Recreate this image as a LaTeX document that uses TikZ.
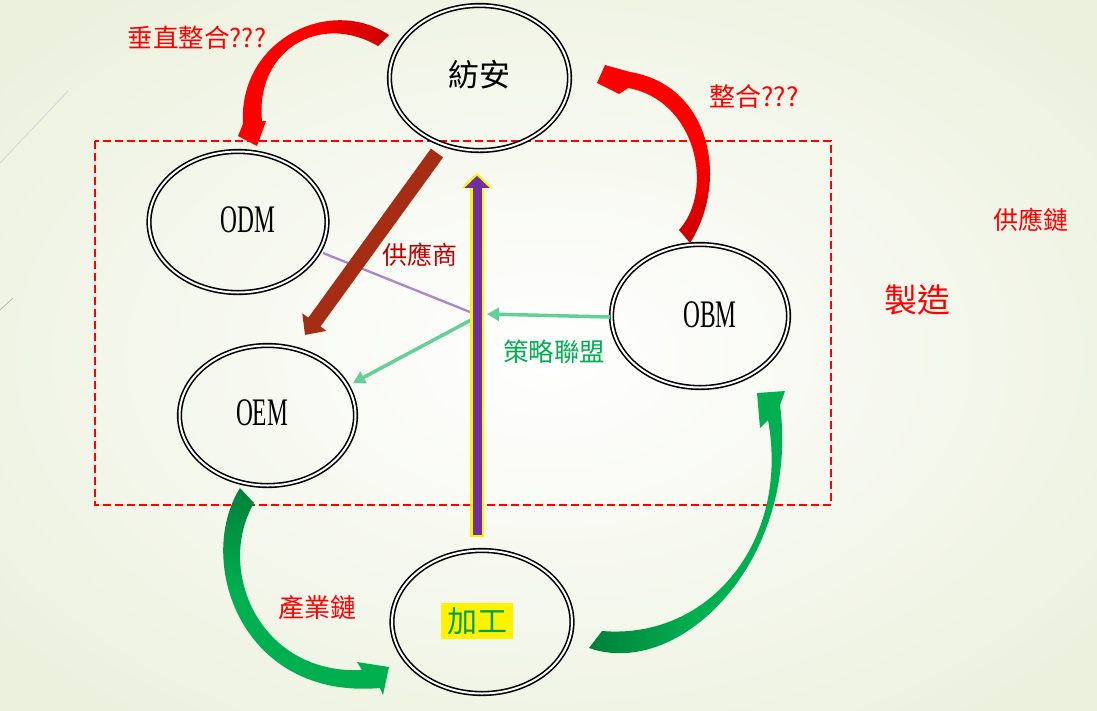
\documentclass[tikz,border=0pt]{standalone}
\usepackage{fontspec}
\setmainfont{Liberation Serif}
\newfontfamily\cjk{Noto Sans CJK TC}
\newfontfamily\narrowserif[FakeStretch=0.6]{Liberation Serif}
\usetikzlibrary{arrows.meta,shapes.geometric}
\definecolor{bgedge}{RGB}{236,241,222}
\definecolor{brownc}{RGB}{165,45,20}
\definecolor{purplec}{RGB}{112,48,160}
\definecolor{lavc}{RGB}{170,135,205}
\definecolor{lgreen}{RGB}{100,208,152}
\definecolor{mgreen}{RGB}{0,176,80}
\definecolor{dgreen}{RGB}{0,128,58}
\definecolor{dred}{RGB}{192,0,0}
\definecolor{rdark}{RGB}{200,0,0}
\definecolor{jgreen}{RGB}{0,160,80}
\begin{document}
\begin{tikzpicture}[x=1pt,y=-1pt,
  ring/.style={ellipse, draw=black, double=white, line width=1.6pt, double distance=2pt, inner sep=0pt},
  latin/.style={font=\narrowserif\fontsize{39pt}{39pt}\selectfont},
  cjklabel/.style={font=\cjk\fontsize{#1}{#1}\selectfont, inner sep=0pt},
  thinarrow/.style={lgreen, line width=3.5pt, -{Triangle[width=13pt,length=12pt]}}]
% background
\useasboundingbox (0,0) rectangle (1097,710);
\shade[inner color=white, outer color=bgedge] (-150,-100) rectangle (1247,810);
\draw[black!18, line width=0.7pt] (0,163) -- (68,91);
\draw[black!30, line width=0.7pt] (0,310) -- (13,298);
% dashed frame
\draw[red, line width=1.6pt, dash pattern=on 8pt off 4pt] (95,141) rectangle (831,505);
% ellipses
\node[ring, minimum width=180pt, minimum height=145pt] (fangan) at (479.5,78) {};
\node[ring, minimum width=178pt, minimum height=141pt] (odm) at (238,222) {};
\node[ring, minimum width=176pt, minimum height=140pt] (oem) at (267.5,415.5) {};
\node[ring, minimum width=177pt, minimum height=143pt] (obm) at (700,316) {};
\node[ring, minimum width=180pt, minimum height=143pt] (jiagong) at (482,622) {};
% connector end points
\coordinate (lavA) at (323,253);
\coordinate (lavB) at (470,312);
\coordinate (g1A) at (610,317);
\coordinate (g1B) at (487,314);
\coordinate (g2A) at (471,320);
\coordinate (g2B) at (353,383);
\coordinate (brA) at (437,153);
\coordinate (brB) at (305,335);
\coordinate (puA) at (477,537);
\coordinate (puB) at (477,173);
% straight connectors
\draw[lavc, line width=2.3pt] (lavA) -- (lavB);
\draw[thinarrow] (g1A) -- (g1B);
\draw[thinarrow] (g2A) -- (g2B);
\draw[brownc, line width=15pt, -{Triangle[width=29pt,length=16pt]}] (brA) -- (brB);
\draw[yellow, line width=13.5pt, -{Triangle[width=30pt,length=15pt]}] (puA) -- (puB);
\draw[purplec, line width=9pt, shorten >=2.8pt, shorten <=2pt, -{Triangle[width=24pt,length=12pt]}] (puA) -- (puB);
% curved block arrows
\shade[left color=red, right color=rdark, middle color=red]
  (378,46) .. controls (320,12) and (255,50) .. (262,121)
  -- (266,121) -- (257,146) -- (238,136) -- (243,124)
  .. controls (238,40) and (330,-5) .. (389,35) -- cycle;
\shade[top color=red, bottom color=rdark, middle color=red]
  (679,230) .. controls (715,190) and (696,100) .. (628,88)
  -- (619,94) -- (597,83) -- (605,65) -- (630,72)
  .. controls (710,85) and (730,180) .. (690,243) -- cycle;
\shade[top color=dgreen, bottom color=mgreen, middle color=mgreen]
  (240,488) .. controls (195,560) and (240,700) .. (380,688)
  -- (383,695) -- (389,667) -- (357,662) -- (362,670)
  .. controls (260,675) and (215,570) .. (254,503) -- cycle;
\shade[left color=dgreen, right color=mgreen, middle color=mgreen]
  (589,648) .. controls (680,680) and (800,560) .. (780,405)
  -- (785,391) -- (757,393) -- (760,428) -- (768,420)
  .. controls (790,540) and (710,640) .. (602,631) -- cycle;
% labels
\node[latin] (odmt) at (248,220) {ODM};
\node[latin] (oemt) at (262,413) {OEM};
\node[latin] (obmt) at (710,315) {OBM};
\node[cjklabel=31pt] (fangant) at (479,75) {紡安};
\node[cjklabel=30pt, fill=yellow, text=jgreen, minimum width=72pt, minimum height=36pt] (jiagongt) at (477,621) {加工};
\node[cjklabel=25.5pt, text=red] (vint) at (197,38) {垂直整合???};
\node[cjklabel=26pt, text=red] (intt) at (754,97) {整合???};
\node[cjklabel=25pt, text=red] (scm) at (1031,220) {供應鏈};
\node[cjklabel=33pt, text=red] (mfg) at (917,300) {製造};
\node[cjklabel=25pt, text=dred] (supp) at (420,255) {供應商};
\node[cjklabel=25.5pt, text=mgreen] (alli) at (554,352) {策略聯盟};
\node[cjklabel=26pt, text=red] (indc) at (317,608) {產業鏈};
\end{tikzpicture}
\end{document}
